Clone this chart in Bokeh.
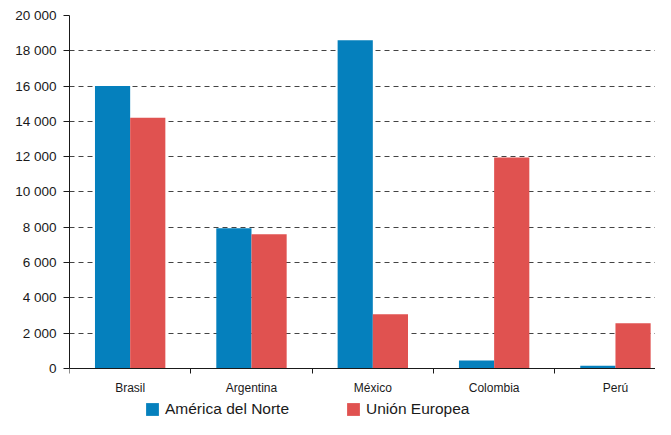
from bokeh.plotting import figure
from bokeh.models import ColumnDataSource, Range1d, FixedTicker, Legend, LegendItem
from bokeh.transform import dodge
from bokeh.embed import file_html
from bokeh.resources import INLINE

countries = ["Brasil", "Argentina", "México", "Colombia", "Perú"]
north_america = [16000, 7950, 18600, 450, 150]
european_union = [14200, 7600, 3080, 11950, 2570]
y_ticks = [0, 2000, 4000, 6000, 8000, 10000, 12000, 14000, 16000, 18000, 20000]
y_tick_labels = ["0", "2 000", "4 000", "6 000", "8 000", "10 000", "12 000",
                 "14 000", "16 000", "18 000", "20 000"]
series_names = ["América del Norte", "Unión Europea"]

BLUE = "#0580bd"
RED = "#e05250"
FONT = "Liberation Sans"
TXT = "#1a1a1a"

centers = [i + 0.5 for i in range(len(countries))]
src = ColumnDataSource(dict(x=centers, na=north_america, eu=european_union))

# frame extends below zero so that the category labels and the legend sit inside it
p = figure(width=655, height=419, output_backend="svg", toolbar_location=None,
           x_range=Range1d(0, 4.83), y_range=Range1d(-2890, 20000),
           min_border_left=69, min_border_right=0, min_border_top=15, min_border_bottom=0)
p.outline_line_color = None
p.background_fill_color = "white"

r1 = p.vbar(x=dodge("x", -0.145), top="na", width=0.29, source=src,
            fill_color=BLUE, line_color=None)
r2 = p.vbar(x=dodge("x", 0.145), top="eu", width=0.29, source=src,
            fill_color=RED, line_color=None)

# x axis at y = 0: labels at centers, ticks at category boundaries
xa = p.xaxis[0]
xa.fixed_location = 0
xa.ticker = FixedTicker(ticks=centers, minor_ticks=list(range(len(countries) + 1)))
xa.major_label_overrides = {c: n for c, n in zip(centers, countries)}
xa.major_tick_out = 0
xa.major_tick_in = 0
xa.minor_tick_out = 5
xa.minor_tick_in = 0
xa.minor_tick_line_color = TXT
xa.axis_line_color = TXT
xa.major_label_text_font = FONT
xa.major_label_text_font_size = "12px"
xa.major_label_text_color = TXT
xa.major_label_standoff = 8

ya = p.yaxis[0]
ya.bounds = (0, 20000)
ya.ticker = FixedTicker(ticks=y_ticks, minor_ticks=[])
ya.major_label_overrides = {t: l for t, l in zip(y_ticks, y_tick_labels)}
ya.major_tick_out = 6
ya.major_tick_in = 0
ya.major_tick_line_color = TXT
ya.axis_line_color = TXT
ya.major_label_text_font = FONT
ya.major_label_text_font_size = "13.5px"
ya.major_label_text_color = TXT
ya.major_label_standoff = 7

p.xgrid.grid_line_color = None
p.ygrid.grid_line_color = "#444444"
p.ygrid.grid_line_dash = "5 4"
p.ygrid.grid_line_width = 1

legend = Legend(items=[LegendItem(label=series_names[0], renderers=[r1]),
                       LegendItem(label=series_names[1], renderers=[r2])],
                orientation="horizontal", location=(75, 1),
                glyph_width=16, glyph_height=16, label_standoff=5, spacing=56,
                padding=1, margin=0, border_line_color=None, background_fill_alpha=0,
                label_text_font=FONT, label_text_font_size="15.5px", label_text_color=TXT)
p.add_layout(legend, "center")

open("out.html", "w").write(file_html(p, INLINE))
